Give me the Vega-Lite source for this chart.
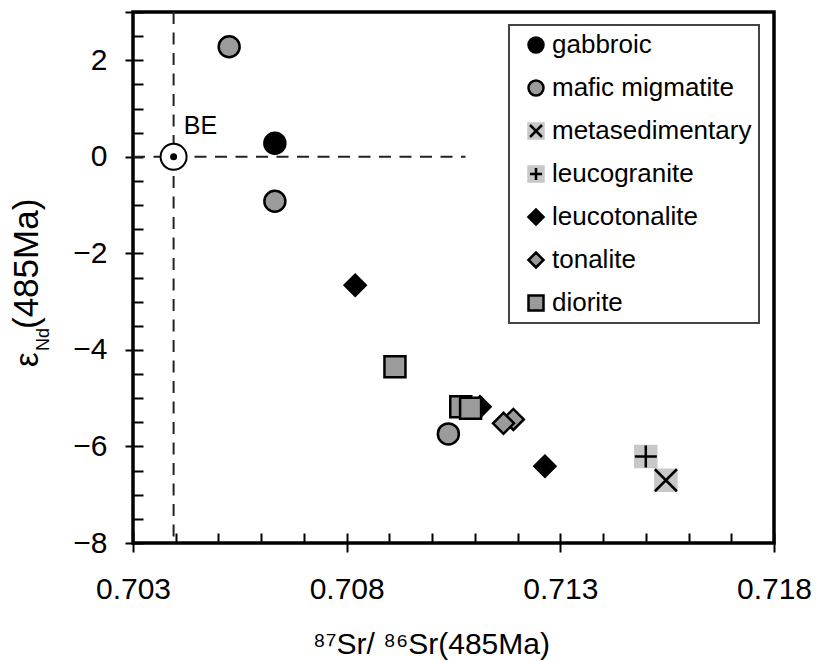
{
  "$schema": "https://vega.github.io/schema/vega-lite/v6.json",
  "width": 641,
  "height": 531,
  "autosize": {"type": "none"},
  "padding": {"left": 133, "top": 12, "right": 43, "bottom": 118},
  "background": "white",
  "config": {
    "view": {"stroke": "black", "strokeWidth": 3.5},
    "font": "Liberation Sans",
    "legend": {
      "labelFont": "Liberation Sans",
      "labelFontSize": 26,
      "labelColor": "black",
      "labelLimit": 400,
      "symbolSize": 225,
      "symbolStrokeWidth": 2.5,
      "rowPadding": 17,
      "padding": 7,
      "labelOffset": 3,
      "symbolOffset": 7,
      "strokeWidth": 2
    }
  },
  "datasets": {
    "samples": [
      {"rock": "mafic migmatite", "sr": 0.70525, "nd": 2.28},
      {"rock": "gabbroic", "sr": 0.70632, "nd": 0.28},
      {"rock": "mafic migmatite", "sr": 0.70632, "nd": -0.92},
      {"rock": "leucotonalite", "sr": 0.7082, "nd": -2.66},
      {"rock": "diorite", "sr": 0.70913, "nd": -4.35},
      {"rock": "leucotonalite", "sr": 0.71112, "nd": -5.18},
      {"rock": "diorite", "sr": 0.71067, "nd": -5.18},
      {"rock": "diorite", "sr": 0.7109, "nd": -5.21},
      {"rock": "mafic migmatite", "sr": 0.71038, "nd": -5.74},
      {"rock": "tonalite", "sr": 0.7119, "nd": -5.44},
      {"rock": "tonalite", "sr": 0.71167, "nd": -5.52},
      {"rock": "leucotonalite", "sr": 0.71264, "nd": -6.41},
      {"rock": "leucogranite", "sr": 0.715, "nd": -6.21},
      {"rock": "metasedimentary", "sr": 0.71547, "nd": -6.7}
    ]
  },
  "layer": [
    {
      "data": {"values": [{}]},
      "mark": {"type": "rule", "strokeDash": [12, 8.5], "strokeWidth": 2, "color": "#222222"},
      "encoding": {"x": {"datum": 0.70395, "type": "quantitative", "axis": null}}
    },
    {
      "data": {"values": [{}]},
      "mark": {"type": "rule", "strokeDash": [12, 8.5], "strokeWidth": 2, "color": "#222222"},
      "encoding": {
        "y": {"datum": 0, "type": "quantitative", "axis": null},
        "x": {"datum": 0.703, "type": "quantitative", "axis": null},
        "x2": {"datum": 0.71078}
      }
    },
    {
      "data": {"values": [{}]},
      "mark": {"type": "point", "shape": "circle", "filled": true, "fill": "white", "stroke": "black", "strokeWidth": 2, "size": 676, "opacity": 1},
      "encoding": {"x": {"datum": 0.70395, "type": "quantitative", "axis": null}, "y": {"datum": 0, "type": "quantitative", "axis": null}}
    },
    {
      "data": {"values": [{}]},
      "mark": {"type": "point", "shape": "circle", "filled": true, "color": "black", "size": 49, "opacity": 1},
      "encoding": {"x": {"datum": 0.70395, "type": "quantitative", "axis": null}, "y": {"datum": 0, "type": "quantitative", "axis": null}}
    },
    {
      "data": {"values": [{}]},
      "mark": {"type": "text", "text": "BE", "align": "left", "baseline": "middle", "fontSize": 25, "font": "Liberation Sans", "color": "black"},
      "encoding": {"x": {"datum": 0.70419, "type": "quantitative", "axis": null}, "y": {"datum": 0.64, "type": "quantitative", "axis": null}}
    },
    {
      "data": {"name": "samples"},
      "mark": {"type": "point", "filled": true, "strokeWidth": 2.5, "opacity": 1},
      "encoding": {
        "x": {
          "field": "sr",
          "type": "quantitative",
          "scale": {"domain": [0.703, 0.718], "nice": false, "zero": false},
          "axis": {
            "orient": "bottom",
            "values": [0.703, 0.708, 0.713, 0.718],
            "domain": false,
            "grid": false,
            "tickColor": "black",
            "tickWidth": 2,
            "tickSize": 9,
            "format": ".3f",
            "labelFlush": false,
            "labelOverlap": false,
            "labelFont": "Liberation Sans",
            "labelFontSize": 30,
            "labelColor": "black",
            "labelBaseline": "alphabetic",
            "labelPadding": 46,
            "title": "⁸⁷Sr/ ⁸⁶Sr(485Ma)",
            "titleFont": "Liberation Sans",
            "titleFontSize": 30,
            "titleFontWeight": "normal",
            "titleColor": "black",
            "titleX": 298,
            "titleY": 110,
            "titleAlign": "center",
            "titleBaseline": "alphabetic"
          }
        },
        "y": {
          "field": "nd",
          "type": "quantitative",
          "scale": {"domain": [-8, 3], "nice": false, "zero": false},
          "axis": {
            "orient": "left",
            "values": [-8, -6, -4, -2, 0, 2, 3],
            "domain": false,
            "grid": false,
            "tickColor": "black",
            "tickWidth": 2,
            "tickSize": 8,
            "labelExpr": "datum.value % 2 == 0 ? format(datum.value, 'd') : ''",
            "labelFlush": false,
            "labelOverlap": false,
            "labelFont": "Liberation Sans",
            "labelFontSize": 30,
            "labelColor": "black",
            "labelPadding": 18,
            "title": null
          }
        },
        "shape": {
          "field": "rock",
          "type": "nominal",
          "scale": {
            "domain": ["gabbroic", "mafic migmatite", "metasedimentary", "leucogranite", "leucotonalite", "tonalite", "diorite"],
            "range": ["circle", "circle", "square", "square", "diamond", "diamond", "square"]
          },
          "legend": {"title": null, "orient": "none", "legendX": 376, "legendY": 13, "strokeColor": "#444444", "fillColor": "white"}
        },
        "fill": {
          "field": "rock",
          "type": "nominal",
          "scale": {
            "domain": ["gabbroic", "mafic migmatite", "metasedimentary", "leucogranite", "leucotonalite", "tonalite", "diorite"],
            "range": ["#000000", "#9b9b9b", "#c8c8c8", "#c8c8c8", "#000000", "#9b9b9b", "#9b9b9b"]
          },
          "legend": {"title": null, "orient": "none", "legendX": 376, "legendY": 13, "strokeColor": "#444444", "fillColor": "white"}
        },
        "stroke": {
          "field": "rock",
          "type": "nominal",
          "scale": {
            "domain": ["gabbroic", "mafic migmatite", "metasedimentary", "leucogranite", "leucotonalite", "tonalite", "diorite"],
            "range": ["#000000", "#000000", "#c8c8c8", "#c8c8c8", "#000000", "#000000", "#000000"]
          },
          "legend": {"title": null, "orient": "none", "legendX": 376, "legendY": 13, "strokeColor": "#444444", "fillColor": "white"}
        },
        "size": {
          "field": "rock",
          "type": "nominal",
          "scale": {
            "domain": ["gabbroic", "mafic migmatite", "metasedimentary", "leucogranite", "leucotonalite", "tonalite", "diorite"],
            "range": [441, 441, 529, 529, 576, 529, 400]
          },
          "legend": null
        }
      }
    },
    {
      "data": {"name": "samples"},
      "transform": [{"filter": "datum.rock == 'metasedimentary' || datum.rock == 'leucogranite'"}],
      "mark": {"type": "point", "filled": false, "color": "black", "strokeWidth": 2.5, "size": 756, "opacity": 1},
      "encoding": {
        "x": {
          "field": "sr",
          "type": "quantitative",
          "axis": {
            "orient": "bottom",
            "values": [0.703, 0.704, 0.705, 0.706, 0.707, 0.708, 0.709, 0.71, 0.711, 0.712, 0.713, 0.714, 0.715, 0.716, 0.717, 0.718],
            "domain": false,
            "grid": false,
            "labels": false,
            "title": null,
            "tickColor": "black",
            "tickWidth": 2,
            "tickSize": -10
          }
        },
        "y": {
          "field": "nd",
          "type": "quantitative",
          "axis": {
            "orient": "left",
            "values": [-8, -7.5, -7, -6.5, -6, -5.5, -5, -4.5, -4, -3.5, -3, -2.5, -2, -1.5, -1, -0.5, 0, 0.5, 1, 1.5, 2, 2.5, 3],
            "domain": false,
            "grid": false,
            "labels": false,
            "title": null,
            "tickColor": "black",
            "tickWidth": 2,
            "tickSize": -10
          }
        },
        "shape": {
          "field": "rock",
          "type": "nominal",
          "scale": {
            "domain": ["gabbroic", "mafic migmatite", "metasedimentary", "leucogranite", "leucotonalite", "tonalite", "diorite"],
            "range": ["M0,0", "M0,0", "M-0.8,-0.8L0.8,0.8M-0.8,0.8L0.8,-0.8", "M-0.8,0H0.8M0,-0.8V0.8", "M0,0", "M0,0", "M0,0"]
          },
          "legend": {"title": null, "orient": "none", "legendX": 376, "legendY": 13, "labelOpacity": 0, "symbolStrokeColor": "black", "symbolFillColor": "transparent"}
        }
      }
    },
    {
      "data": {"values": [{}]},
      "mark": {"type": "text", "text": "ε", "angle": 270, "align": "left", "baseline": "alphabetic", "fontSize": 33, "font": "Liberation Sans", "color": "black"},
      "encoding": {"x": {"datum": 0.700777, "type": "quantitative", "axis": null}, "y": {"datum": -4.354, "type": "quantitative", "axis": null}}
    },
    {
      "data": {"values": [{}]},
      "mark": {"type": "text", "text": "Nd", "angle": 270, "align": "left", "baseline": "alphabetic", "fontSize": 18, "font": "Liberation Sans", "color": "black"},
      "encoding": {"x": {"datum": 0.701034, "type": "quantitative", "axis": null}, "y": {"datum": -4.023, "type": "quantitative", "axis": null}}
    },
    {
      "data": {"values": [{}]},
      "mark": {"type": "text", "text": "(485Ma)", "angle": 270, "align": "left", "baseline": "alphabetic", "fontSize": 35, "font": "Liberation Sans", "color": "black"},
      "encoding": {"x": {"datum": 0.700777, "type": "quantitative", "axis": null}, "y": {"datum": -3.567, "type": "quantitative", "axis": null}}
    }
  ],
  "resolve": {
    "scale": {"shape": "independent", "fill": "independent", "stroke": "independent"},
    "legend": {"shape": "independent", "fill": "independent", "stroke": "independent"},
    "axis": {"x": "independent", "y": "independent"}
  }
}
